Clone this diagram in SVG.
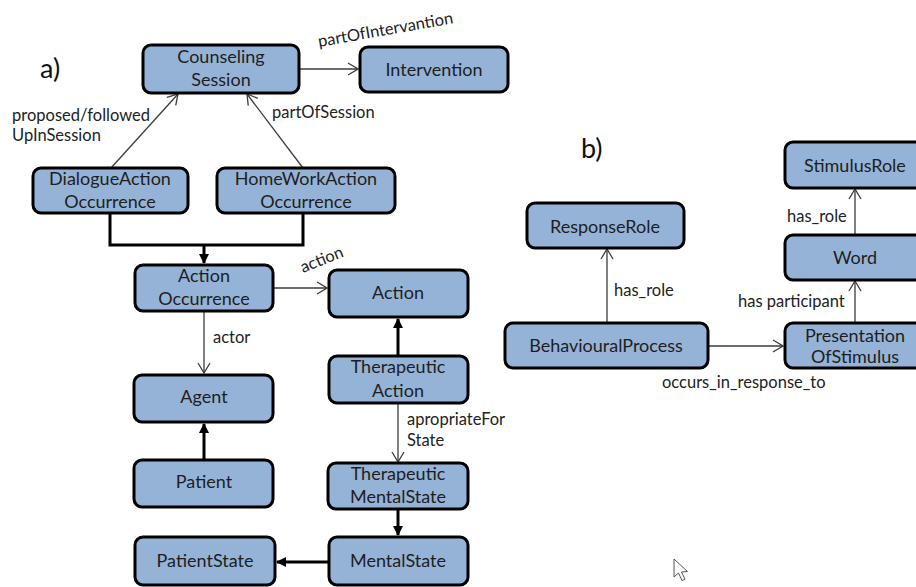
<svg xmlns="http://www.w3.org/2000/svg" width="916" height="587" viewBox="0 0 916 587">
  <style>
    .box { fill: #95b3d7; stroke: #000; stroke-width: 3; }
    .nt { font-family: Lato, "Open Sans", "Liberation Sans", sans-serif; font-size: 18px; fill: #1e1e1e; text-anchor: middle; }
    .lbl { font-family: Lato, "Open Sans", "Liberation Sans", sans-serif; font-size: 16.5px; fill: #222; }
    .panel { font-family: Lato, "Open Sans", "Liberation Sans", sans-serif; font-size: 27px; fill: #111; }
    .thin { fill: none; stroke: #3c3c3c; stroke-width: 1.3; marker-end: url(#open); }
    .thick { fill: none; stroke: #000; stroke-width: 3; }
    .thickArrow { fill: none; stroke: #000; stroke-width: 3; marker-end: url(#solid); }
  </style>
  <defs>
    <marker id="open" viewBox="0 0 12 14" refX="11" refY="7" markerWidth="12" markerHeight="14" markerUnits="userSpaceOnUse" orient="auto">
      <path d="M1,1 L11,7 L1,13" fill="none" stroke="#3c3c3c" stroke-width="1.3"/>
    </marker>
    <marker id="solid" viewBox="0 0 10 10" refX="9" refY="5" markerWidth="10" markerHeight="10" markerUnits="userSpaceOnUse" orient="auto">
      <path d="M0,0 L10,5 L0,10 z" fill="#000"/>
    </marker>
  </defs>

  <rect width="916" height="587" fill="#fff"/>

  <text class="panel" x="40" y="78">a)</text>
  <text class="panel" x="581" y="158">b)</text>

  <!-- connectors -->
  <g id="connectors">
    <path class="thin" d="M299,69 L358,69"/>
    <path class="thin" d="M111,168 L178,94"/>
    <path class="thin" d="M303,168 L247,94"/>
    <path class="thick" d="M110,213 L110,245 L303,245 L303,213"/>
    <path class="thickArrow" d="M204,245 L204,263"/>
    <path class="thin" d="M273,288 L327,288"/>
    <path class="thin" d="M204,311 L204,373"/>
    <path class="thickArrow" d="M398,356 L398,319"/>
    <path class="thin" d="M398,403 L398,462"/>
    <path class="thickArrow" d="M204,460 L204,424"/>
    <path class="thickArrow" d="M398,509 L398,535"/>
    <path class="thickArrow" d="M329,562 L277,562"/>
    <path class="thin" d="M607,323 L607,249"/>
    <path class="thin" d="M708,346 L783,346"/>
    <path class="thin" d="M855,323 L855,281"/>
    <path class="thin" d="M855,235 L855,189"/>

    <text class="lbl" transform="translate(319,47) rotate(-10)">partOfIntervantion</text>
    <text class="lbl" x="12" y="121">proposed/followed</text>
    <text class="lbl" x="12" y="141">UpInSession</text>
    <text class="lbl" x="272" y="118">partOfSession</text>
    <text class="lbl" transform="translate(303,273) rotate(-22)">action</text>
    <text class="lbl" x="213" y="343">actor</text>
    <text class="lbl" x="407" y="425">apropriateFor</text>
    <text class="lbl" x="407" y="446">State</text>
    <text class="lbl" x="614" y="296">has_role</text>
    <text class="lbl" x="738" y="307">has participant</text>
    <text class="lbl" x="787" y="222">has_role</text>
    <text class="lbl" x="662" y="388">occurs_in_response_to</text>
  </g>

  <!-- nodes, panel a -->
  <g id="counseling-session">
    <rect class="box" x="143" y="45" width="156" height="48" rx="8"/>
    <text class="nt" x="221" y="63">Counseling</text>
    <text class="nt" x="221" y="86">Session</text>
  </g>
  <g id="intervention">
    <rect class="box" x="360" y="47" width="148" height="45" rx="8"/>
    <text class="nt" x="434" y="76">Intervention</text>
  </g>
  <g id="dialogue-action-occurrence">
    <rect class="box" x="33" y="168" width="155" height="45" rx="8"/>
    <text class="nt" x="110" y="185">DialogueAction</text>
    <text class="nt" x="110" y="208">Occurrence</text>
  </g>
  <g id="homework-action-occurrence">
    <rect class="box" x="217" y="168" width="178" height="45" rx="8"/>
    <text class="nt" x="306" y="185">HomeWorkAction</text>
    <text class="nt" x="306" y="208">Occurrence</text>
  </g>
  <g id="action-occurrence">
    <rect class="box" x="135" y="265" width="138" height="46" rx="8"/>
    <text class="nt" x="204" y="282">Action</text>
    <text class="nt" x="204" y="305">Occurrence</text>
  </g>
  <g id="action">
    <rect class="box" x="329" y="270" width="139" height="47" rx="8"/>
    <text class="nt" x="398" y="299">Action</text>
  </g>
  <g id="agent">
    <rect class="box" x="134" y="375" width="139" height="47" rx="8"/>
    <text class="nt" x="204" y="403">Agent</text>
  </g>
  <g id="therapeutic-action">
    <rect class="box" x="329" y="356" width="139" height="47" rx="8"/>
    <text class="nt" x="398" y="373">Therapeutic</text>
    <text class="nt" x="398" y="397">Action</text>
  </g>
  <g id="patient">
    <rect class="box" x="134" y="460" width="139" height="47" rx="8"/>
    <text class="nt" x="204" y="488">Patient</text>
  </g>
  <g id="therapeutic-mental-state">
    <rect class="box" x="328" y="463" width="140" height="46" rx="8"/>
    <text class="nt" x="398" y="480">Therapeutic</text>
    <text class="nt" x="398" y="503">MentalState</text>
  </g>
  <g id="mental-state">
    <rect class="box" x="329" y="537" width="139" height="48" rx="8"/>
    <text class="nt" x="398" y="567">MentalState</text>
  </g>
  <g id="patient-state">
    <rect class="box" x="135" y="537" width="140" height="48" rx="8"/>
    <text class="nt" x="205" y="567">PatientState</text>
  </g>

  <!-- nodes, panel b -->
  <g id="stimulus-role">
    <rect class="box" x="785" y="142" width="140" height="46" rx="8"/>
    <text class="nt" x="855" y="172">StimulusRole</text>
  </g>
  <g id="response-role">
    <rect class="box" x="527" y="203" width="157" height="45" rx="8"/>
    <text class="nt" x="605" y="233">ResponseRole</text>
  </g>
  <g id="word">
    <rect class="box" x="785" y="235" width="140" height="45" rx="8"/>
    <text class="nt" x="855" y="264">Word</text>
  </g>
  <g id="presentation-of-stimulus">
    <rect class="box" x="785" y="323" width="140" height="45" rx="8"/>
    <text class="nt" x="855" y="342">Presentation</text>
    <text class="nt" x="855" y="363">OfStimulus</text>
  </g>
  <g id="behavioural-process">
    <rect class="box" x="505" y="323" width="203" height="45" rx="8"/>
    <text class="nt" x="606" y="352">BehaviouralProcess</text>
  </g>

  <!-- mouse pointer -->
  <path d="M674,559 L674,577 L678.5,573 L682,580.5 L685,579.2 L681.5,572 L687.5,571.5 Z" fill="#fff" stroke="#555" stroke-width="1" stroke-linejoin="round"/>
</svg>
